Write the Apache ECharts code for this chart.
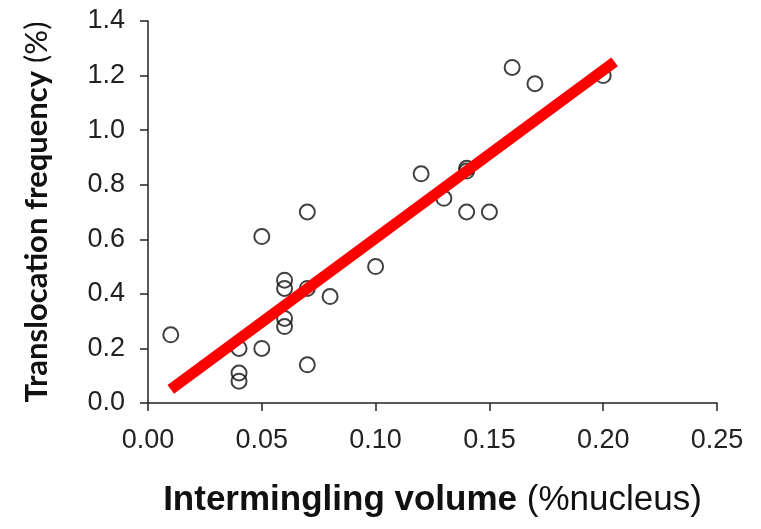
<!DOCTYPE html>
<html><head><meta charset="utf-8">
<script src="https://cdn.jsdelivr.net/npm/echarts@6/dist/echarts.min.js"></script>
<style>html,body{margin:0;padding:0;background:#fff}#c{width:761px;height:529px}</style>
</head><body><div id="c"></div>
<script>
var xValues = [0.01, 0.04, 0.04, 0.04, 0.05, 0.05, 0.06, 0.06, 0.06, 0.06, 0.07, 0.07, 0.07, 0.08, 0.10, 0.12, 0.13, 0.14, 0.14, 0.14, 0.15, 0.16, 0.17, 0.20];
var yValues = [0.25, 0.20, 0.11, 0.08, 0.20, 0.61, 0.45, 0.42, 0.31, 0.28, 0.42, 0.70, 0.14, 0.39, 0.50, 0.84, 0.75, 0.86, 0.85, 0.70, 0.70, 1.23, 1.17, 1.20];
var fitX = [0.01, 0.205];
var fitY = [0.05, 1.25];
var xTicks = [0.00, 0.05, 0.10, 0.15, 0.20, 0.25];
var yTicks = [0.0, 0.2, 0.4, 0.6, 0.8, 1.0, 1.2, 1.4];

var pts = xValues.map(function(x, i){ return [x, yValues[i]]; });
var fit = fitX.map(function(x, i){ return [x, fitY[i]]; });

var chart = echarts.init(document.getElementById('c'), null, {renderer:'canvas'});
chart.setOption({
  animation: false,
  backgroundColor: '#fff',
  grid: {left: 148, right: 44, top: 21, bottom: 126, containLabel: false},
  xAxis: {
    type: 'value', min: xTicks[0], max: xTicks[xTicks.length-1], interval: 0.05,
    name: '{b|Intermingling volume} {r|(%nucleus)}',
    nameLocation: 'middle', nameGap: 80,
    nameTextStyle: {
      fontSize: 35, fontFamily: 'Liberation Sans', color: '#111',
      rich: {
        b: {fontFamily: 'Liberation Sans', fontWeight: 'bold', fontSize: 35, color: '#111'},
        r: {fontFamily: 'Liberation Sans', fontWeight: 'normal', fontSize: 35, color: '#111'}
      }
    },
    axisLine: {show: true, onZero: false, lineStyle: {color: '#222', width: 1.5}},
    axisTick: {show: true, inside: false, length: 8, lineStyle: {color: '#222', width: 1.5}},
    splitLine: {show: false},
    axisLabel: {margin: 24, fontFamily: 'Liberation Sans', fontSize: 27, color: '#222',
      formatter: function(v){ return v.toFixed(2); }}
  },
  yAxis: {
    type: 'value', min: yTicks[0], max: yTicks[yTicks.length-1], interval: 0.2,
    name: '{b|Translocation frequency} {r|(%)}',
    nameLocation: 'middle', nameRotate: 90, nameGap: 96,
    nameTextStyle: {
      fontSize: 31, fontFamily: 'Lato', color: '#111',
      rich: {
        b: {fontFamily: 'Lato', fontWeight: 'bold', fontSize: 31, color: '#111'},
        r: {fontFamily: 'Lato', fontWeight: 'normal', fontSize: 31, color: '#111'}
      }
    },
    axisLine: {show: true, onZero: false, lineStyle: {color: '#222', width: 1.5}},
    axisTick: {show: true, inside: false, length: 8, lineStyle: {color: '#222', width: 1.5}},
    splitLine: {show: false},
    axisLabel: {margin: 23, fontFamily: 'Liberation Sans', fontSize: 27, color: '#222',
      formatter: function(v){ return v.toFixed(1); }}
  },
  series: [
    {
      type: 'scatter', data: pts, symbol: 'circle', symbolSize: 15,
      itemStyle: {color: 'rgba(0,0,0,0)', borderColor: '#111', borderWidth: 2},
      z: 2
    },
    {
      type: 'line', data: fit, symbol: 'none',
      lineStyle: {color: '#ff0000', width: 11, cap: 'butt'},
      z: 3
    }
  ]
});
</script></body></html>
